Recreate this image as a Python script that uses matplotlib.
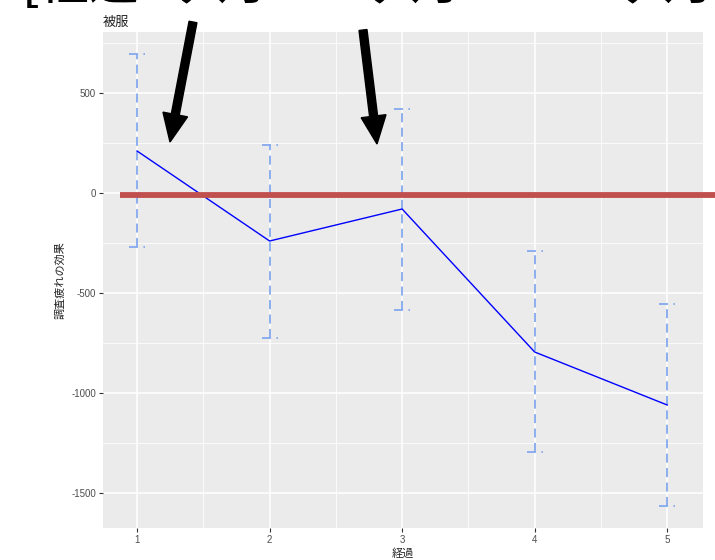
import matplotlib
matplotlib.use("Agg")
import matplotlib.pyplot as plt
from matplotlib.patches import FancyArrow
from matplotlib.transforms import IdentityTransform
from matplotlib.ticker import MultipleLocator

plt.rcParams['font.family'] = ['Liberation Sans', 'Noto Sans CJK JP', 'DejaVu Sans']
plt.rcParams['axes.unicode_minus'] = False
JP = ['Noto Sans CJK JP', 'DejaVu Sans']

# effect of survey fatigue by wave
waves = [1, 2, 3, 4, 5]
effect = [210, -240, -80, -795, -1060]
lower = [-270, -725, -585, -1295, -1565]
upper = [695, 240, 420, -290, -555]
header = ["[経過1ヶ月", "1ヶ月", "6ヶ月]"]

fig = plt.figure(figsize=(7.15, 5.6), dpi=100)
ax = fig.add_axes([103 / 715, 32 / 560, 600 / 715, 496 / 560])
ax.set_facecolor('#EBEBEB')
for s in ax.spines.values():
    s.set_visible(False)

ax.set_xlim(0.743, 5.27)
ax.set_ylim(-1675, 805)
ax.set_xticks(waves)
ax.yaxis.set_major_locator(MultipleLocator(500))
ax.xaxis.set_minor_locator(MultipleLocator(0.5))
ax.yaxis.set_minor_locator(MultipleLocator(250))
ax.grid(which='major', color='white', lw=1.1)
ax.grid(which='minor', color='white', lw=0.55)
ax.set_axisbelow(True)
ax.tick_params(which='major', length=3, color='#333333', labelcolor='#4D4D4D',
               labelsize=7, pad=2)
ax.tick_params(which='minor', length=0)

# dashed error bars with dashed caps
eb = dict(color='#84A9EE', lw=1.3, ls=(0, (5, 3)))
ax.vlines(waves, lower, upper, **eb)
ax.hlines(lower + upper, [w - 0.06 for w in waves] * 2,
          [w + 0.06 for w in waves] * 2, **eb)
ax.plot(waves, effect, color='#0000FF', lw=1)

# reference line at zero, running past the panel edge
ax.plot([0.872, 5.40], [-12, -12], color='#C0504D', lw=4.2,
        solid_capstyle='butt', clip_on=False, zorder=5)

ax.set_xlabel('経過', family=JP, fontsize=8, color='#222222', labelpad=2)
ax.set_ylabel('調査疲れの効果', family=JP, fontsize=8, color='#222222', labelpad=4)
ax.set_title('被服', family=JP, fontsize=9.5, loc='left', pad=4, color='#222222')

# large heading, mostly running off the top
for x, t in zip([22, 333, 585], header):
    fig.text(x / 715, 1 + 1 / 560, t, family=JP, fontsize=36, weight='medium',
             va='baseline', ha='left', color='black')

# arrows in pixel coordinates
for (x0, y0), (x1, y1) in [((193, 560 - 22), (170, 560 - 142)),
                           ((363, 560 - 30), (377, 560 - 144))]:
    fig.add_artist(FancyArrow(x0, y0, x1 - x0, y1 - y0, width=8,
                              head_width=25, head_length=28,
                              length_includes_head=True, color='black',
                              transform=IdentityTransform()))

plt.savefig('out.png', dpi=100)
